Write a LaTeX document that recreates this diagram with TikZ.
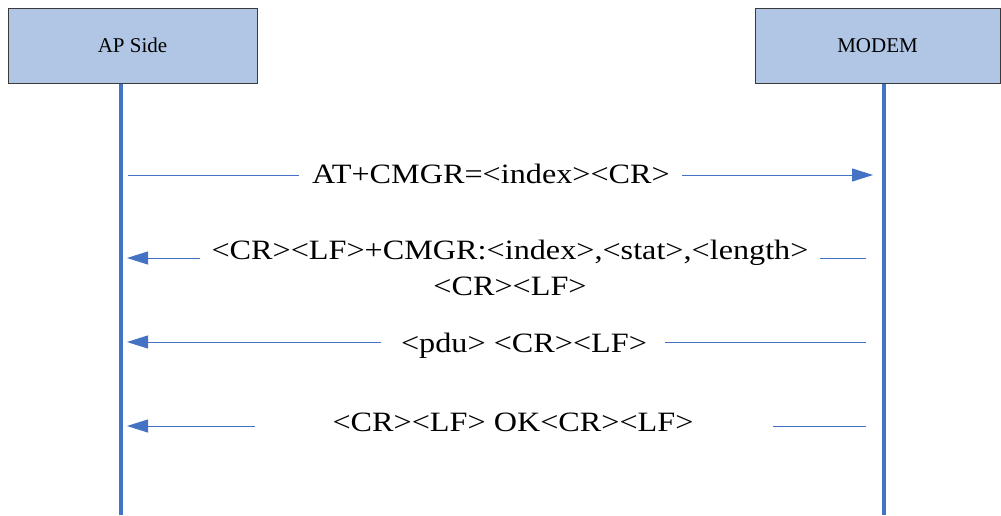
\documentclass[tikz,border=0pt]{standalone}
\usepackage{fontspec}
\setmainfont{Liberation Serif}
\newfontfamily\lblfont[FakeStretch=1.15]{Liberation Serif}
\usetikzlibrary{arrows.meta}
\definecolor{lifeblue}{HTML}{4472C4}
\definecolor{boxfill}{HTML}{B1C6E5}
\definecolor{boxline}{HTML}{3A3A3A}
\tikzset{
  actor/.style={draw=boxline, line width=1pt, fill=boxfill, minimum width=249pt, minimum height=75pt, inner sep=0pt, font=\fontsize{21}{24}\selectfont},
  lifeline/.style={draw=lifeblue, line width=4.5pt},
  msgline/.style={draw=lifeblue, line width=1pt},
  msgarrow/.style={msgline, -{Triangle[length=21pt,width=13pt]}},
  msglabel/.style={inner sep=0pt, anchor=base, align=center, font=\lblfont\fontsize{28}{36}\selectfont}
}
\begin{document}
\begin{tikzpicture}[x=1pt,y=-1pt]
\useasboundingbox (0,0) rectangle (1001,515);
% actors
\node[actor] (ap) at (132.5,45.5) {AP Side};
\node[actor, minimum width=245pt] (modem) at (877.5,45.5) {MODEM};
\coordinate (apbot) at (121,515);
\coordinate (mdbot) at (884,515);
\draw[lifeline] (ap.south -| apbot) -- (apbot);
\draw[lifeline] (modem.south -| mdbot) -- (mdbot);
% message 1
\node[msglabel] (m1) at (491,183) {AT+CMGR=<index><CR>};
\coordinate (m1a) at (128,175);
\coordinate (m1b) at (299,175);
\coordinate (m1c) at (682,175);
\coordinate (m1d) at (873,175);
\draw[msgline] (m1a) -- (m1b);
\draw[msgarrow] (m1c) -- (m1d);
% message 2
\node[msglabel] (m2) at (510,295) {<CR><LF>+CMGR:<index>,<stat>,<length>\\<CR><LF>};
\coordinate (m2a) at (866,258);
\coordinate (m2b) at (820,258);
\coordinate (m2c) at (200,258);
\coordinate (m2d) at (127,258);
\draw[msgline] (m2a) -- (m2b);
\draw[msgarrow] (m2c) -- (m2d);
% message 3
\node[msglabel] (m3) at (524,352) {<pdu> <CR><LF>};
\coordinate (m3a) at (866,342);
\coordinate (m3b) at (665,342);
\coordinate (m3c) at (381,342);
\coordinate (m3d) at (127,342);
\draw[msgline] (m3a) -- (m3b);
\draw[msgarrow] (m3c) -- (m3d);
% message 4
\node[msglabel] (m4) at (513,431) {<CR><LF> OK<CR><LF>};
\coordinate (m4a) at (866,426);
\coordinate (m4b) at (773,426);
\coordinate (m4c) at (255,426);
\coordinate (m4d) at (127,426);
\draw[msgline] (m4a) -- (m4b);
\draw[msgarrow] (m4c) -- (m4d);
\end{tikzpicture}
\end{document}
